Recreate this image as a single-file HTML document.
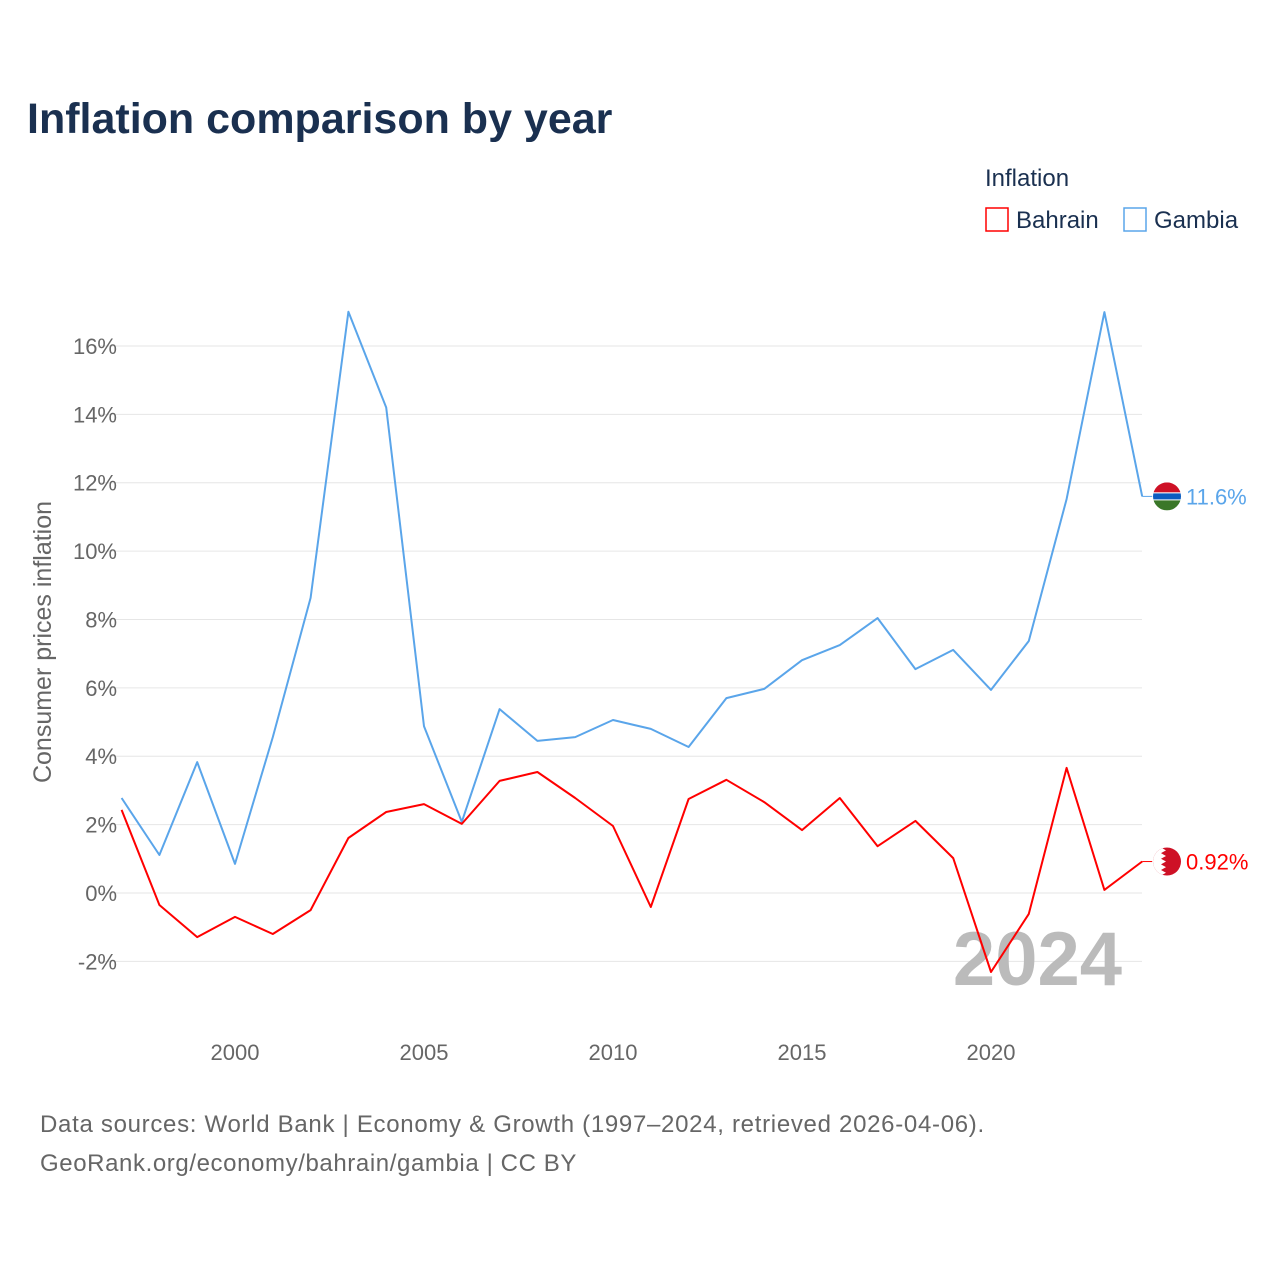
<!DOCTYPE html>
<html><head><meta charset="utf-8"><style>
body{margin:0;background:#fff;width:1280px;height:1280px;overflow:hidden;font-family:"Liberation Sans",sans-serif}
</style></head><body>
<svg width="1280" height="1280" xmlns="http://www.w3.org/2000/svg">
<text x="27" y="133" font-size="43" font-weight="bold" fill="#1a3050">Inflation comparison by year</text>
<text x="985" y="186" font-size="24" fill="#1a3050">Inflation</text>
<g><rect x="986" y="208" width="22" height="23" fill="none" stroke="#f00" stroke-width="1.5"/><text x="1016" y="228" font-size="24" fill="#1a3050">Bahrain</text></g>
<g><rect x="1124" y="208" width="22" height="23" fill="none" stroke="#5aa5ea" stroke-width="1.5"/><text x="1154" y="228" font-size="24" fill="#1a3050">Gambia</text></g>
<g id="grid"></g>
<g id="yt"></g>
<g id="xt"></g>
<text transform="translate(51,642) rotate(-90)" text-anchor="middle" font-size="25" fill="#666">Consumer prices inflation</text>
<text x="1122" y="985" text-anchor="end" font-size="76" font-weight="bold" fill="#bbb">2024</text>
<g id="series"></g>
<text x="40" y="1132" font-size="24" letter-spacing="0.7" fill="#666">Data sources: World Bank | Economy &amp; Growth (1997–2024, retrieved 2026-04-06).</text>
<text x="40" y="1171" font-size="24" letter-spacing="0.6" fill="#666">GeoRank.org/economy/bahrain/gambia | CC BY</text>
</svg>
<script>
const years=[1997,1998,1999,2000,2001,2002,2003,2004,2005,2006,2007,2008,2009,2010,2011,2012,2013,2014,2015,2016,2017,2018,2019,2020,2021,2022,2023,2024];
const gambia=[2.78,1.11,3.83,0.85,4.56,8.63,17.0,14.2,4.88,2.08,5.38,4.45,4.56,5.06,4.80,4.27,5.70,5.97,6.81,7.25,8.04,6.55,7.11,5.94,7.37,11.52,16.99,11.6];
const bahrain=[2.43,-0.35,-1.29,-0.70,-1.20,-0.50,1.61,2.37,2.60,2.02,3.28,3.54,2.78,1.96,-0.41,2.75,3.31,2.66,1.84,2.78,1.37,2.11,1.02,-2.31,-0.61,3.66,0.09,0.92];
const yTicks=[-2,0,2,4,6,8,10,12,14,16];
const xTicks=[2000,2005,2010,2015,2020];
const NS="http://www.w3.org/2000/svg";
const X=y=>121.6+(y-1997)*37.8;
const Y=v=>893-v*34.19;
function mk(t,a,p){const e=document.createElementNS(NS,t);for(const k in a)e.setAttribute(k,a[k]);p.appendChild(e);return e;}
const grid=document.getElementById('grid'),yt=document.getElementById('yt'),xt=document.getElementById('xt'),ser=document.getElementById('series');
yTicks.forEach(v=>{
 const l=mk('line',{x1:100,x2:1142,y1:Y(v),y2:Y(v),stroke:'#e6e6e6','stroke-width':1},grid);
 
 
 const t=mk('text',{x:117,y:Y(v)+8,'text-anchor':'end','font-size':22,fill:'#666'},yt);
 t.textContent=v+'%';
 
 
});
xTicks.forEach(v=>{
 const t=mk('text',{x:X(v),y:1060,'text-anchor':'middle','font-size':22,fill:'#666'},xt);
 t.textContent=v;
 
 
});
function line(vals,col,name){
 const d=vals.map((v,i)=>(i?'L':'M')+X(years[i]).toFixed(1)+','+Y(v).toFixed(1)).join('');
 const p=mk('path',{d:d,fill:'none',stroke:col,'stroke-width':2,'stroke-linejoin':'round'},ser);
 
 
}
line(gambia,'#5aa5ea','gambia-line');
line(bahrain,'#f00','bahrain-line');
const lg=gambia[gambia.length-1],lb=bahrain[bahrain.length-1];
const xe=X(years[years.length-1]);
function endLbl(v,col,txt,name,flag){
 const y=Y(v);
 mk('line',{x1:xe,x2:xe+10,y1:y,y2:y,stroke:col,'stroke-width':1},ser);
 const g=mk('g',{},ser);
 
 
 flag(g,1167,y);
 const t=mk('text',{x:1186,y:y+8,'font-size':22,fill:col},ser);
 t.textContent=txt;
 
 
}
endLbl(lg,'#5aa5ea',lg+'%','gambia',(g,cx,cy)=>{
 const cp=mk('clipPath',{id:'cg'},g);mk('circle',{cx:cx,cy:cy,r:14},cp);
 const h=mk('g',{'clip-path':'url(#cg)'},g);
 mk('rect',{x:cx-14,y:cy-14,width:28,height:10,fill:'#ce1126'},h);
 mk('rect',{x:cx-14,y:cy-4,width:28,height:8,fill:'#fff'},h);
 mk('rect',{x:cx-14,y:cy-3,width:28,height:6,fill:'#0c5cc0'},h);
 mk('rect',{x:cx-14,y:cy+4,width:28,height:10,fill:'#3a7728'},h);
});
endLbl(lb,'#f00',lb+'%','bahrain',(g,cx,cy)=>{
 const cp=mk('clipPath',{id:'cb'},g);mk('circle',{cx:cx,cy:cy,r:14},cp);
 const h=mk('g',{'clip-path':'url(#cb)'},g);
 mk('rect',{x:cx-14,y:cy-14,width:28,height:28,fill:'#ce1126'},h);
 let d='M'+(cx-14)+','+(cy-14);
 for(let i=0;i<5;i++){const y0=cy-14+i*5.6;d+='L'+(cx-6)+','+y0+'L'+(cx-1)+','+(y0+2.8);}
 d+='L'+(cx-6)+','+(cy+14)+'L'+(cx-14)+','+(cy+14)+'Z';
 mk('path',{d:d,fill:'#fff'},h);
});
</script>
</body></html>
